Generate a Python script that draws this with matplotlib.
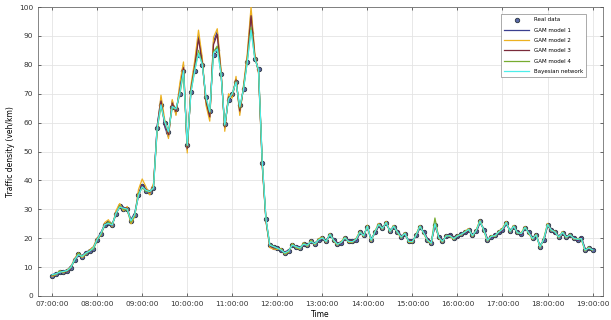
import numpy as np
import pandas as pd
import matplotlib
matplotlib.use('Agg')
import matplotlib.pyplot as plt
import matplotlib.dates as mdates

# 5 minute samples, 07:00 -> 19:00
times = pd.date_range('2020-01-01 07:00', '2020-01-01 19:00', freq='5min')

real = [7.0, 7.6, 8.4, 8.2, 8.6, 9.8, 12.5, 14.6, 13.6, 14.8, 15.6, 16.4,
        19.5, 21.5, 24.6, 25.3, 24.6, 28.5, 31.0, 30.2, 30.0, 25.8, 28.0, 35.0,
        38.0, 36.5, 36.0, 37.5, 58.3, 66.0, 60.0, 56.6, 65.5, 64.6, 70.0, 77.9,
        52.4, 70.5, 77.9, 83.5, 80.0, 69.0, 64.0, 83.5, 85.0, 76.7, 59.4, 68.0,
        70.0, 73.9, 66.0, 71.5, 80.9, 91.0, 82.0, 78.5, 46.0, 26.6, 17.7, 17.0,
        16.5, 16.0, 14.8, 15.5, 17.7, 17.0, 16.5, 18.0, 17.5, 18.9, 18.0, 19.5,
        20.0, 19.0, 21.2, 19.5, 18.0, 18.4, 20.0, 19.0, 18.9, 19.5, 22.0, 21.0,
        24.0, 19.4, 22.0, 24.6, 23.5, 25.3, 22.5, 24.0, 22.3, 20.5, 21.5, 19.0,
        18.9, 21.0, 24.0, 22.0, 19.5, 18.4, 24.5, 20.5, 19.0, 20.6, 21.0, 20.0,
        20.6, 21.5, 22.0, 22.9, 21.0, 22.5, 25.8, 23.0, 19.4, 20.5, 21.0, 22.0,
        23.0, 25.3, 22.5, 24.0, 22.0, 21.5, 23.6, 22.0, 20.0, 21.0, 17.1, 19.5,
        24.6, 23.0, 22.0, 20.5, 21.9, 20.5, 21.0, 20.1, 19.5, 20.0, 16.0, 16.5,
        16.0]

gam1 = [7.3, 7.9, 8.1, 8.6, 8.9, 10.4, 12.1, 14.2, 14.0, 15.1, 15.9, 16.9,
        19.0, 22.0, 24.2, 25.8, 25.0, 28.0, 31.5, 30.8, 29.5, 26.5, 28.6, 35.6,
        38.6, 37.0, 35.4, 38.2, 59.0, 68.5, 58.5, 55.0, 67.5, 63.0, 72.0, 80.0,
        50.5, 72.0, 80.0, 90.0, 81.5, 67.0, 61.8, 88.0, 91.5, 77.5, 58.0, 69.0,
        69.0, 75.0, 63.5, 72.5, 82.5, 98.5, 83.0, 77.5, 45.0, 25.8, 17.2, 16.5,
        16.8, 15.6, 15.2, 15.9, 17.3, 17.4, 16.9, 17.6, 17.9, 18.5, 18.4, 19.1,
        19.6, 19.4, 20.8, 19.9, 18.4, 18.0, 19.6, 19.4, 19.3, 19.1, 21.6, 21.4,
        23.5, 19.9, 21.6, 24.1, 23.9, 24.8, 22.9, 23.6, 22.7, 20.9, 21.1, 19.4,
        19.3, 20.6, 23.6, 22.4, 19.9, 18.8, 24.1, 20.9, 19.4, 20.2, 21.4, 20.4,
        20.2, 21.9, 21.6, 22.5, 21.4, 22.1, 25.3, 23.4, 19.8, 20.1, 21.4, 21.6,
        22.6, 24.8, 22.9, 23.6, 22.4, 21.1, 23.2, 22.4, 20.4, 20.6, 17.6, 19.1,
        24.1, 23.4, 21.6, 20.9, 21.5, 20.9, 20.6, 20.5, 19.1, 20.4, 16.5, 16.1,
        16.3]

gam2 = [6.8, 7.4, 8.7, 8.0, 9.0, 10.1, 13.0, 14.9, 13.3, 14.5, 15.9, 17.1,
        20.2, 21.0, 25.4, 26.4, 24.0, 29.5, 32.0, 29.5, 31.0, 25.0, 27.4, 36.8,
        40.5, 37.8, 35.0, 39.0, 57.0, 69.5, 61.0, 54.5, 68.0, 62.5, 73.5, 81.0,
        49.5, 73.0, 81.5, 92.0, 82.5, 66.0, 60.5, 89.5, 92.5, 78.5, 57.0, 70.0,
        68.5, 76.0, 62.5, 73.0, 84.0, 100.0, 84.0, 77.0, 44.5, 25.5, 16.8, 16.2,
        16.2, 16.4, 14.5, 15.2, 18.1, 16.7, 16.2, 18.4, 17.2, 19.3, 17.7, 19.8,
        20.4, 18.6, 21.6, 19.1, 17.6, 18.8, 20.4, 18.6, 18.5, 19.9, 22.4, 20.6,
        24.5, 18.9, 22.4, 25.1, 23.1, 25.8, 22.1, 24.4, 21.9, 20.1, 21.9, 18.6,
        18.5, 21.4, 24.4, 21.6, 19.1, 18.0, 24.9, 20.1, 18.6, 21.0, 20.6, 19.6,
        21.0, 21.1, 22.4, 23.3, 20.6, 22.9, 26.3, 22.6, 19.0, 20.9, 20.6, 22.4,
        23.4, 25.8, 22.1, 24.4, 21.6, 21.9, 24.0, 21.6, 19.6, 21.4, 16.6, 19.9,
        25.1, 22.6, 22.4, 20.1, 22.3, 20.1, 21.4, 19.7, 19.9, 19.6, 15.6, 16.9,
        15.8]

gam3 = [7.1, 7.8, 8.3, 8.4, 8.4, 9.5, 12.8, 14.4, 13.9, 15.0, 15.3, 16.6,
        19.8, 21.8, 24.9, 25.0, 24.3, 28.8, 30.6, 30.6, 30.4, 26.2, 28.4, 34.5,
        38.2, 36.8, 35.8, 37.8, 58.8, 67.5, 59.5, 55.8, 66.8, 63.8, 71.0, 79.0,
        51.0, 71.5, 79.5, 89.0, 80.8, 67.5, 62.0, 87.0, 90.5, 77.0, 58.5, 68.8,
        69.5, 74.8, 64.0, 72.0, 82.0, 97.0, 82.8, 78.0, 45.5, 26.0, 17.4, 16.8,
        16.7, 15.8, 15.0, 15.7, 17.5, 17.2, 16.7, 17.8, 17.7, 18.7, 18.2, 19.3,
        19.8, 19.2, 21.0, 19.7, 18.2, 18.2, 19.8, 19.2, 19.1, 19.3, 21.8, 21.2,
        23.8, 19.6, 21.8, 24.4, 23.7, 25.1, 22.7, 23.8, 22.5, 20.7, 21.3, 19.2,
        19.1, 20.8, 23.8, 22.2, 19.7, 18.6, 24.3, 20.7, 19.2, 20.4, 21.2, 20.2,
        20.4, 21.7, 21.8, 22.7, 21.2, 22.3, 25.5, 23.2, 19.6, 20.3, 21.2, 21.8,
        22.8, 25.1, 22.7, 23.8, 22.2, 21.3, 23.4, 22.2, 20.2, 20.8, 17.3, 19.3,
        24.4, 23.2, 21.8, 20.7, 21.7, 20.7, 20.8, 20.3, 19.3, 20.2, 16.2, 16.3,
        16.1]

gam4 = [7.2, 7.5, 8.6, 8.3, 8.7, 10.0, 12.3, 14.8, 13.8, 14.6, 15.8, 16.2,
        19.3, 21.3, 24.4, 25.6, 24.9, 28.2, 31.2, 30.0, 29.7, 25.5, 27.8, 35.3,
        37.6, 36.2, 36.3, 37.2, 58.0, 65.5, 60.5, 57.0, 65.0, 65.0, 69.5, 77.5,
        52.0, 70.8, 78.2, 85.0, 80.2, 68.5, 63.5, 84.5, 86.5, 76.9, 59.0, 68.2,
        70.2, 74.2, 65.0, 71.8, 81.2, 93.0, 82.2, 78.3, 46.2, 26.4, 17.8, 17.2,
        16.4, 16.2, 14.6, 15.4, 17.9, 16.9, 16.4, 18.2, 17.4, 19.1, 17.9, 19.6,
        20.2, 18.8, 21.4, 19.3, 17.8, 18.6, 20.2, 18.8, 18.7, 19.7, 22.2, 20.8,
        24.2, 19.2, 22.2, 24.8, 23.3, 25.5, 22.3, 24.2, 22.1, 20.3, 21.7, 18.8,
        18.7, 21.2, 24.2, 21.8, 19.3, 18.2, 27.0, 20.3, 18.8, 20.8, 20.8, 19.8,
        20.8, 21.3, 22.2, 23.1, 20.8, 22.7, 26.0, 22.8, 19.2, 20.7, 20.8, 22.2,
        23.2, 25.5, 22.3, 24.2, 21.8, 21.7, 23.8, 21.8, 19.8, 21.2, 16.9, 19.7,
        24.8, 22.8, 22.2, 20.3, 22.1, 20.3, 21.2, 19.9, 19.7, 19.8, 15.8, 16.7,
        15.9]

bayes = [7.4, 7.7, 8.2, 8.5, 8.8, 9.9, 12.6, 14.3, 13.7, 14.9, 15.5, 16.7,
         19.6, 21.7, 24.7, 25.1, 24.5, 28.6, 30.8, 30.4, 30.1, 26.0, 28.2, 34.8,
         37.8, 36.6, 36.1, 37.4, 58.2, 66.2, 60.2, 56.8, 65.6, 64.7, 70.2, 78.0,
         52.2, 70.6, 78.0, 84.0, 80.1, 68.8, 63.8, 84.0, 85.5, 76.8, 59.2, 68.1,
         70.0, 74.0, 65.5, 71.6, 81.0, 92.0, 82.1, 78.4, 46.1, 26.5, 17.6, 17.1,
         16.6, 15.9, 14.9, 15.6, 17.6, 17.1, 16.6, 17.9, 17.6, 18.8, 18.1, 19.4,
         20.1, 18.9, 21.3, 19.4, 17.9, 18.5, 20.1, 18.9, 18.8, 19.6, 22.1, 20.9,
         24.1, 19.3, 22.1, 24.7, 23.4, 25.4, 22.4, 24.1, 22.2, 20.4, 21.6, 18.9,
         18.8, 21.1, 24.1, 21.9, 19.4, 18.3, 25.0, 20.4, 18.9, 20.7, 20.9, 19.9,
         20.7, 21.4, 22.1, 23.0, 20.9, 22.6, 25.9, 22.9, 19.3, 20.6, 20.9, 22.1,
         23.1, 25.4, 22.4, 24.1, 21.9, 21.6, 23.7, 21.9, 19.9, 21.1, 17.0, 19.6,
         24.7, 22.9, 22.1, 20.4, 22.0, 20.4, 21.1, 20.0, 19.6, 19.9, 15.9, 16.6,
         16.0]

labels = ['Real data', 'GAM model 1', 'GAM model 2', 'GAM model 3', 'GAM model 4', 'Bayesian network']
colors = ['#3b3f8f', '#EDB120', '#7a2a3a', '#77AC30', '#4DEEEA']

fig = plt.figure(figsize=(6.11, 3.2), dpi=100)
ax = fig.add_axes([0.062, 0.075, 0.925, 0.903])

ax.plot(times, real, 'o', ms=3.2, mfc='#5a6aa8', mec='#2a3440', mew=0.6, label=labels[0], zorder=2)
for ser, col, lab in zip([gam1, gam2, gam3, gam4, bayes], colors, labels[1:]):
    ax.plot(times, ser, '-', color=col, lw=0.9, label=lab, zorder=3)

ax.set_ylim(0, 100)
ax.set_yticks(np.arange(0, 101, 10))
ax.set_xlim(pd.Timestamp('2020-01-01 06:41'), pd.Timestamp('2020-01-01 19:14'))
ax.xaxis.set_major_locator(mdates.HourLocator(byhour=range(7, 20)))
ax.xaxis.set_major_formatter(mdates.DateFormatter('%H:%M:%S'))

ax.grid(True, color='#e4e4e4', lw=0.6)
ax.tick_params(direction='in', labelsize=5.3, length=2, width=0.5, colors='#333333',
               top=True, right=True)
for s in ax.spines.values():
    s.set_linewidth(0.5)
    s.set_color('#555555')

ax.set_xlabel('Time', fontsize=5.5, labelpad=2)
ax.set_ylabel('Traffic density (veh/km)', fontsize=5.5, labelpad=3)

leg = ax.legend(loc='upper right', bbox_to_anchor=(0.975, 0.985), fontsize=4.0,
                frameon=True, fancybox=False, edgecolor='#888888', framealpha=1,
                handlelength=4.5, labelspacing=0.95, borderpad=0.6)
leg.get_frame().set_linewidth(0.5)

plt.savefig('out.png', dpi=100)
